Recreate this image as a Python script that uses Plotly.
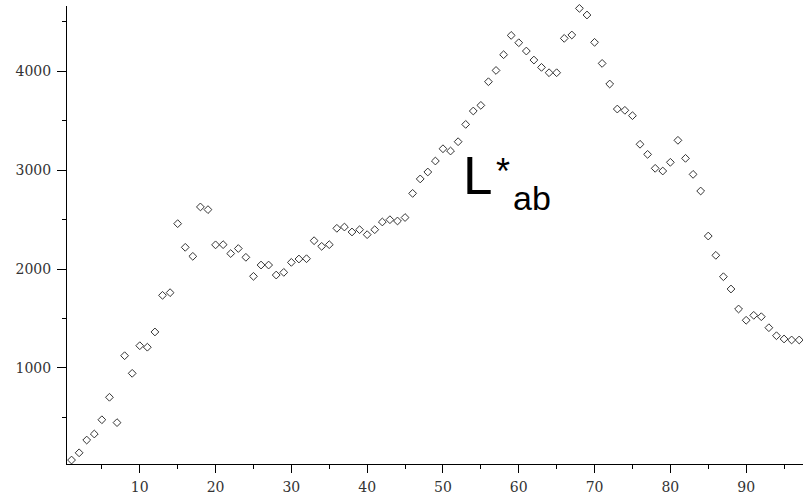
import plotly.graph_objects as go

# Sample index along the horizontal axis
index = list(range(1, 98))

# Measured values per sample
values = [
    70, 143, 272, 333, 477, 704, 448, 1124, 946, 1225,
    1210, 1364, 1734, 1761, 2458, 2219, 2128, 2627, 2600, 2244,
    2246, 2156, 2207, 2118, 1926, 2040, 2040, 1939, 1966, 2067,
    2101, 2104, 2286, 2229, 2246, 2411, 2424, 2374, 2397, 2347,
    2397, 2475, 2498, 2485, 2520, 2764, 2910, 2980, 3091, 3215,
    3192, 3286, 3461, 3596, 3653, 3892, 4006, 4165, 4360, 4286,
    4202, 4111, 4037, 3983, 3983, 4330, 4364, 4633, 4566, 4290,
    4077, 3869, 3616, 3603, 3549, 3260, 3158, 3017, 2990, 3078,
    3300, 3118, 2956, 2788, 2333, 2138, 1922, 1798, 1596, 1482,
    1532, 1518, 1407, 1326, 1293, 1283, 1283,
]

W, H = 803, 494
ML, MR, MT, MB = 67, 0, 6, 30
PW, PH = W - ML - MR, H - MT - MB


def px(x):
    return (x - ML) / PW


def py(y):
    return (H - MB - y) / PH


fig = go.Figure()
fig.add_trace(go.Scatter(
    x=index, y=values, mode="markers",
    marker=dict(symbol="diamond-open", size=6, color="#333333",
                line=dict(width=1, color="#333333")),
    cliponaxis=False,
    showlegend=False,
))

tick_font = dict(family="DejaVu Serif, serif", size=14, color="#333333")

fig.update_layout(
    width=W, height=H,
    margin=dict(l=ML, r=MR, t=MT, b=MB, pad=0),
    paper_bgcolor="white", plot_bgcolor="white",
    xaxis=dict(
        range=[0.4, 97.5], showgrid=False, zeroline=False,
        showline=True, linecolor="black", linewidth=1,
        ticks="outside", ticklen=8, tickwidth=1, tickcolor="black",
        tick0=0, dtick=10, tickfont=tick_font, ticklabelstandoff=2,
        minor=dict(ticks="outside", ticklen=4, tickwidth=1, tickcolor="black", dtick=5, tick0=0),
    ),
    yaxis=dict(
        range=[30, 4657], showgrid=False, zeroline=False,
        showline=True, linecolor="black", linewidth=1,
        ticks="outside", ticklen=9, tickwidth=1, tickcolor="black",
        tick0=0, dtick=1000, tickfont=tick_font, ticklabelstandoff=3,
        minor=dict(ticks="outside", ticklen=4, tickwidth=1, tickcolor="black", dtick=500, tick0=0),
    ),
)

label_font = "Arial, Liberation Sans, sans-serif"
fig.add_annotation(text="L", xref="paper", yref="paper", x=px(461), y=py(175),
                   xanchor="left", yanchor="middle", showarrow=False,
                   font=dict(family=label_font, size=53, color="black"))
fig.add_annotation(text="*", xref="paper", yref="paper", x=px(503), y=py(172),
                   xanchor="center", yanchor="middle", showarrow=False,
                   font=dict(family=label_font, size=36, color="black"))
fig.add_annotation(text="ab", xref="paper", yref="paper", x=px(511), y=py(198),
                   xanchor="left", yanchor="middle", showarrow=False,
                   font=dict(family=label_font, size=34, color="black"))

fig.write_html("out.html")
